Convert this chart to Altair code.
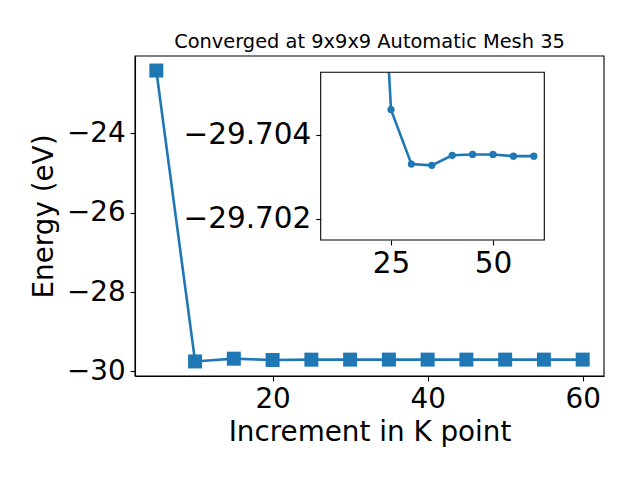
import altair as alt
import pandas as pd

# ---- data ----
k_points = [5, 10, 15, 20, 25, 30, 35, 40, 45, 50, 55, 60]
energies = [-22.42, -29.75, -29.68, -29.7136, -29.7046, -29.7033, -29.70327,
            -29.70351, -29.70353, -29.70353, -29.70349, -29.70349]
inset_start = 3  # inset shows the converged tail (from k = 20)

main_x_ticks = [20, 40, 60]
main_y_ticks = [-30, -28, -26, -24]
inset_x_ticks = [25, 50]
inset_y_ticks = [-29.704, -29.702]

title_text = "Converged at 9x9x9 Automatic Mesh 35"
x_title = "Increment in K point"
y_title = "Energy (eV)"

main_df = pd.DataFrame({"k": k_points, "E": energies})
inset_df = pd.DataFrame({"k": k_points[inset_start:], "E": energies[inset_start:]})
one = pd.DataFrame({"d": [0]})

BLUE = "#1f77b4"
FONT = "DejaVu Sans"
W, H = 469, 320
IX0, IX1, IY0, IY1 = 185.7, 409.3, 16.3, 184.0

x_main = alt.X("k:Q",
               scale=alt.Scale(domain=[2.25, 62.75], nice=False, zero=False),
               axis=alt.Axis(values=main_x_ticks, title=x_title, titlePadding=5))
y_main = alt.Y("E:Q",
               scale=alt.Scale(domain=[-30.1165, -22.0535], nice=False, zero=False),
               axis=alt.Axis(values=main_y_ticks, title=y_title, titlePadding=8))

main_line = alt.Chart(main_df).mark_line(color=BLUE, strokeWidth=2.6).encode(x_main, y_main)
main_pts = alt.Chart(main_df).mark_point(shape="square", filled=True, size=196,
                                         color=BLUE, opacity=1).encode(x_main, y_main)
main = alt.layer(main_line, main_pts)

x_in = alt.X("k:Q",
             scale=alt.Scale(domain=[7.77, 62.57], range=[IX0, IX1], nice=False, zero=False),
             axis=alt.Axis(values=inset_x_ticks, title=None, orient="bottom",
                           offset=IY1 - H, labelFontSize=29.5, domain=False))
y_in = alt.Y("E:Q",
             scale=alt.Scale(domain=[-29.70549, -29.70149], range=[IY0, IY1],
                             nice=False, zero=False),
             axis=alt.Axis(values=inset_y_ticks, format=".3f", title=None, orient="left",
                           offset=-IX0, labelFontSize=29.5, domain=False))

inset_line = alt.Chart(inset_df).mark_line(color=BLUE, strokeWidth=2.6, clip=True).encode(x_in, y_in)
inset_pts = alt.Chart(inset_df).mark_circle(color=BLUE, size=53, opacity=1, clip=True).encode(x_in, y_in)
mask = alt.Chart(one).mark_rect(fill="white", strokeWidth=0).encode(
    x=alt.value(IX0 - 3), x2=alt.value(IX1 + 3), y=alt.value(0), y2=alt.value(IY0))
inset_frame = alt.Chart(one).mark_rect(fillOpacity=0, stroke="black", strokeWidth=1.1).encode(
    x=alt.value(IX0), x2=alt.value(IX1), y=alt.value(IY0), y2=alt.value(IY1))
main_frame = alt.Chart(one).mark_rect(fillOpacity=0, stroke="black", strokeWidth=1.1).encode(
    x=alt.value(0), x2=alt.value(W), y=alt.value(0), y2=alt.value(H))
inset = alt.layer(inset_line, inset_pts, mask, inset_frame, main_frame)

chart = alt.layer(main, inset).resolve_scale(
    x="independent", y="independent"
).properties(
    width=W, height=H,
    title=alt.Title(title_text, fontSize=19.4, font=FONT, fontWeight="normal",
                    offset=-12, baseline="alphabetic", anchor="middle", frame="group",
                    color="black"),
    padding={"left": 127, "top": 48, "right": 20, "bottom": 96},
    autosize=alt.AutoSizeParams(type="none"),
).configure_view(stroke="transparent").configure_axis(
    labelFont=FONT, titleFont=FONT, titleFontWeight="normal", titleFontSize=27.8,
    labelFontSize=27.8, tickSize=4.9, tickWidth=1.1, tickColor="black",
    domainColor="black", domainWidth=1.1, labelColor="black", titleColor="black",
    grid=False, labelPadding=4.9,
)

chart.save("out.html", embed_options={"renderer": "svg", "actions": False})
